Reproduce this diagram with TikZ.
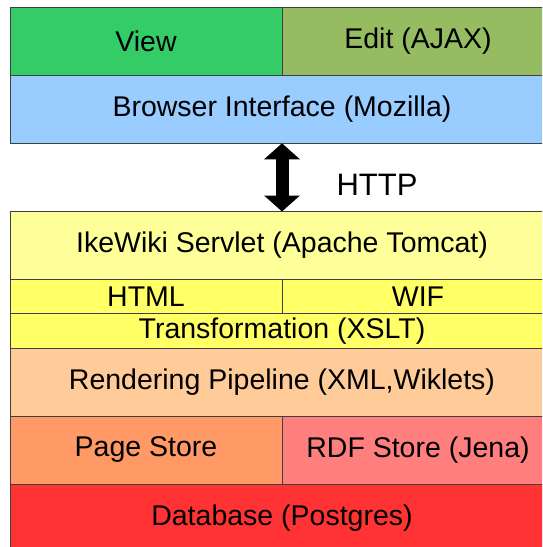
\documentclass[tikz,border=0pt]{standalone}
\usepackage{fontspec}
\setmainfont{Liberation Sans}
\usetikzlibrary{arrows.meta}
\definecolor{cview}{HTML}{33CC66}
\definecolor{cedit}{HTML}{96BC62}
\definecolor{cbrowser}{HTML}{99CCFF}
\definecolor{cservlet}{HTML}{FFFF99}
\definecolor{cformat}{HTML}{FFFF66}
\definecolor{crender}{HTML}{FFCC99}
\definecolor{cpage}{HTML}{FF9966}
\definecolor{crdf}{HTML}{FF7F7F}
\definecolor{cdb}{HTML}{FF3333}
\begin{document}
\begin{tikzpicture}[x=1pt,y=-1pt,
  layer/.style={draw=black!75, line width=0.9pt, inner sep=0pt, outer sep=0pt,
    anchor=north west, font=\fontsize{28.5}{30}\selectfont, text=black},
  httparrow/.style={line width=13pt,
    {Triangle[width=35pt,length=16pt]}-{Triangle[width=35pt,length=16pt]}}
]
\useasboundingbox (0,0) rectangle (542,547);
\clip (0,0) rectangle (542,547);
% client side
\node[layer, fill=cview, minimum width=272pt, minimum height=68pt] (view) at (10,7.3) {View};
\node[layer, fill=cedit, minimum width=272pt, minimum height=68pt] (edit) at (282,7.3) {Edit (AJAX)};
\node[layer, fill=cbrowser, minimum width=544pt, minimum height=68pt] (browser) at (10,75.3) {Browser Interface (Mozilla)};
% server side
\node[layer, fill=cservlet, minimum width=544pt, minimum height=68pt] (servlet) at (10,211.5) {IkeWiki Servlet (Apache Tomcat)};
\node[layer, fill=cformat, minimum width=272pt, minimum height=34pt] (html) at (10,279.5) {HTML};
\node[layer, fill=cformat, minimum width=272pt, minimum height=34pt] (wif) at (282,279.5) {WIF};
\node[layer, fill=cformat, minimum width=544pt, minimum height=34.5pt] (xslt) at (10,313.5) {Transformation (XSLT)};
\node[layer, fill=crender, minimum width=544pt, minimum height=68pt] (render) at (10,348) {Rendering Pipeline (XML,Wiklets)};
\node[layer, fill=cpage, minimum width=272pt, minimum height=68pt] (page) at (10,416) {Page Store};
\node[layer, fill=crdf, minimum width=272pt, minimum height=68pt] (rdf) at (282,416) {RDF Store (Jena)};
\node[layer, fill=cdb, minimum width=544pt, minimum height=68pt] (db) at (10,484) {Database (Postgres)};
% HTTP connection
\draw[httparrow] (browser.south) -- (servlet.north);
\node[font=\fontsize{31}{32}\selectfont, inner sep=0pt] (http) at (377,185) {HTTP};
\end{tikzpicture}
\end{document}
